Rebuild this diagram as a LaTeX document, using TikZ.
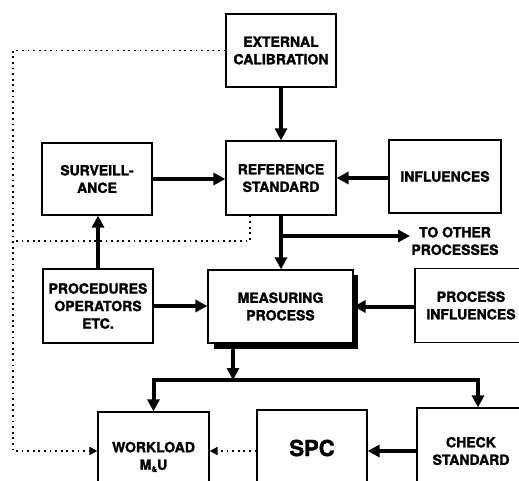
\documentclass[tikz,border=0pt]{standalone}
\usepackage{fontspec}
\setmainfont{TeX Gyre Heros}[BoldFeatures={FakeBold=1.8}]
\usetikzlibrary{arrows.meta,calc}

\begin{document}
\begin{tikzpicture}[x=1pt,y=-1pt,
	hd/.tip={Triangle[length=12pt,width=12pt]},
	dt/.tip={Triangle[length=8pt,width=8pt]},
	lbl/.style={align=center, inner sep=0pt, font=\fontsize{14}{17.5}\selectfont\bfseries},
	blk/.style={lbl, draw=black, line width=1.2pt},
	flow/.style={black, line width=4pt, -hd},
	dots/.style={black, line width=1.6pt, dash pattern=on 1.8pt off 3.8pt}]

		\useasboundingbox (0,0) rectangle (519,481);
		\clip (0,0) rectangle (519,481);

		\node[blk, minimum width=110pt, minimum height=73pt] (ext) at (281,50.5) {EXTERNAL\\CALIBRATION};
		\node[blk, minimum width=110pt, minimum height=72pt] (surv) at (97,179) {SURVEILL-\\ANCE};
		\node[blk, minimum width=110pt, minimum height=74pt] (ref) at (281,178) {REFERENCE\\STANDARD};
		\node[blk, minimum width=112pt, minimum height=73pt] (infl) at (445,176.5) {INFLUENCES};
		\node[blk, minimum width=110pt, minimum height=74pt] (proc) at (98,306) {PROCEDURES\\OPERATORS\\ETC.};
		\node[blk, minimum width=145pt, minimum height=73pt] (meas) at (280.5,306.5) {MEASURING\\PROCESS};
		\node[blk, minimum width=112pt, minimum height=74pt] (pinfl) at (471,305.5) {PROCESS\\INFLUENCES};
		\node[blk, minimum width=111pt, minimum height=90pt] (wl) at (153.5,457) {WORKLOAD\\M\raisebox{-.3ex}{\fontsize{8}{8}\selectfont\&}U};
		\node[blk, minimum width=110pt, minimum height=76pt, font=\fontsize{22}{22}\selectfont\bfseries] (spc) at (312,448) {SPC};
		\node[blk, minimum width=108pt, minimum height=86pt] (chk) at (471,451) {CHECK\\STANDARD};
		\node[lbl] (otherlbl) at (455,241) {TO OTHER\\PROCESSES};

		\fill[black] ($(meas.south west)+(7,0)$) rectangle ($(meas.south east)+(4,5)$);
		\fill[black] ($(meas.north east)+(0,6)$) rectangle ($(meas.south east)+(4,5)$);

		\coordinate (tee) at (281,236);
		\coordinate (other) at (410,236);
		\coordinate (bus) at (233,380);
		\coordinate (fbtop) at (13,50.5);
		\coordinate (fbbot) at (13,451);
		\coordinate (survtap) at (250,241);

		\draw[flow] (ext.south) -- (ref.north);
		\draw[flow] (surv.east) -- (surv.east -| ref.west);
		\draw[flow] (ref.east -| infl.west) -- (ref.east);
		\draw[flow] (ref.south) -- (ref.south |- meas.north);
		\draw[flow] (tee) -- (other);
		\draw[flow] (proc.north) -- (proc.north |- surv.south);
		\draw[flow] (proc.east) -- (proc.east -| meas.west);
		\draw[flow] (meas.east -| pinfl.west) -- (meas.east);
		\draw[flow] (bus |- meas.south) -- (bus);
		\draw[flow, hd-hd] (wl.north) |- (bus) -| ($(chk.north)+(7,0)$);
		\draw[flow] (chk.west) -- (chk.west -| spc.east);

		\draw[dots, -dt] (chk.west -| spc.west) -- (chk.west -| wl.east);
		\draw[dots, -dt] (ext.west) -- (fbtop) -- (fbbot) -- (fbbot -| wl.west);
		\draw[dots] (ref.south -| survtap) -- (survtap) -- (survtap -| fbtop);
	\end{tikzpicture}
\end{document}
